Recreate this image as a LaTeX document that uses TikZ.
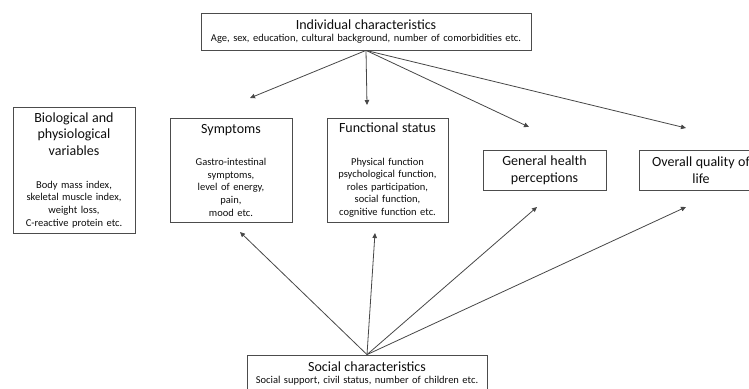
\documentclass[tikz,border=0pt]{standalone}
\usepackage{fontspec}
\setmainfont{Carlito}
\usetikzlibrary{arrows.meta}
\colorlet{box edge}{black!70}
\colorlet{link line}{black!72}
\colorlet{box text}{black!95}
\newcommand{\boxtitle}[1]{{\fontsize{14}{16.8}\selectfont #1\par}}
\tikzset{
  box/.style={draw=box edge, line width=0.8pt, text=box text, align=center, inner sep=2pt,
    font=\fontsize{10.5}{12.6}\selectfont},
  link/.style={draw=link line, line width=0.8pt, -{Triangle[length=5pt,width=4.5pt]}}
}

\begin{document}
\begin{tikzpicture}[x=1pt,y=-1pt]
  \useasboundingbox (0,0) rectangle (749,388);
  \clip (0,0) rectangle (749,388);

  \node[box, text width=326pt, minimum height=37pt] (indiv) at (366,31.5)
    {\boxtitle{Individual characteristics}\makebox[\linewidth]{Age, sex, education, cultural background, number of comorbidities etc.}};

  \node[box, text width=118pt, minimum height=126pt] (bio) at (74,170)
    {\boxtitle{Biological and\\ physiological\\ variables}\vspace{20pt}Body mass index,\\ skeletal muscle index,\\ weight loss,\\ C-reactive protein etc.};
  \node[box, text width=118pt, minimum height=104pt] (symp) at (231,170)
    {\boxtitle{Symptoms}\vspace{20pt}Gastro-intestinal\\ symptoms,\\ level of energy,\\ pain,\\ mood etc.};
  \node[box, text width=117pt, minimum height=104pt] (func) at (387.5,170)
    {\boxtitle{Functional status}\vspace{20pt}Physical function\\ psychological function,\\ roles participation,\\ social function,\\ cognitive function etc.};
  \node[box, text width=119pt, minimum height=40pt] (health) at (544.5,170)
    {\boxtitle{General health\\ perceptions}};
  \node[box, text width=119pt, minimum height=40pt] (qol) at (701,170)
    {\boxtitle{Overall quality of\\ life}};

  \node[box, text width=236pt, minimum height=37pt] (social) at (367,373.5)
    {\boxtitle{Social characteristics}\makebox[\linewidth]{Social support, civil status, number of children etc.}};

  % arrow tips stop short of the boxes
  \coordinate (symp top) at (250,98);
  \coordinate (func top) at (367,105);
  \coordinate (health top) at (529,127);
  \coordinate (qol top) at (686,128);
  \coordinate (symp low) at (240,232);
  \coordinate (func low) at (375,233);
  \coordinate (health low) at (537,207);
  \coordinate (qol low) at (686,207);

  \draw[link] (indiv.south) -- (symp top);
  \draw[link] (indiv.south) -- (func top);
  \draw[link] (indiv.south) -- (health top);
  \draw[link] (indiv.south) -- (qol top);

  \draw[link] (social.north) -- (symp low);
  \draw[link] (social.north) -- (func low);
  \draw[link] (social.north) -- (health low);
  \draw[link] (social.north) -- (qol low);
\end{tikzpicture}
\end{document}
